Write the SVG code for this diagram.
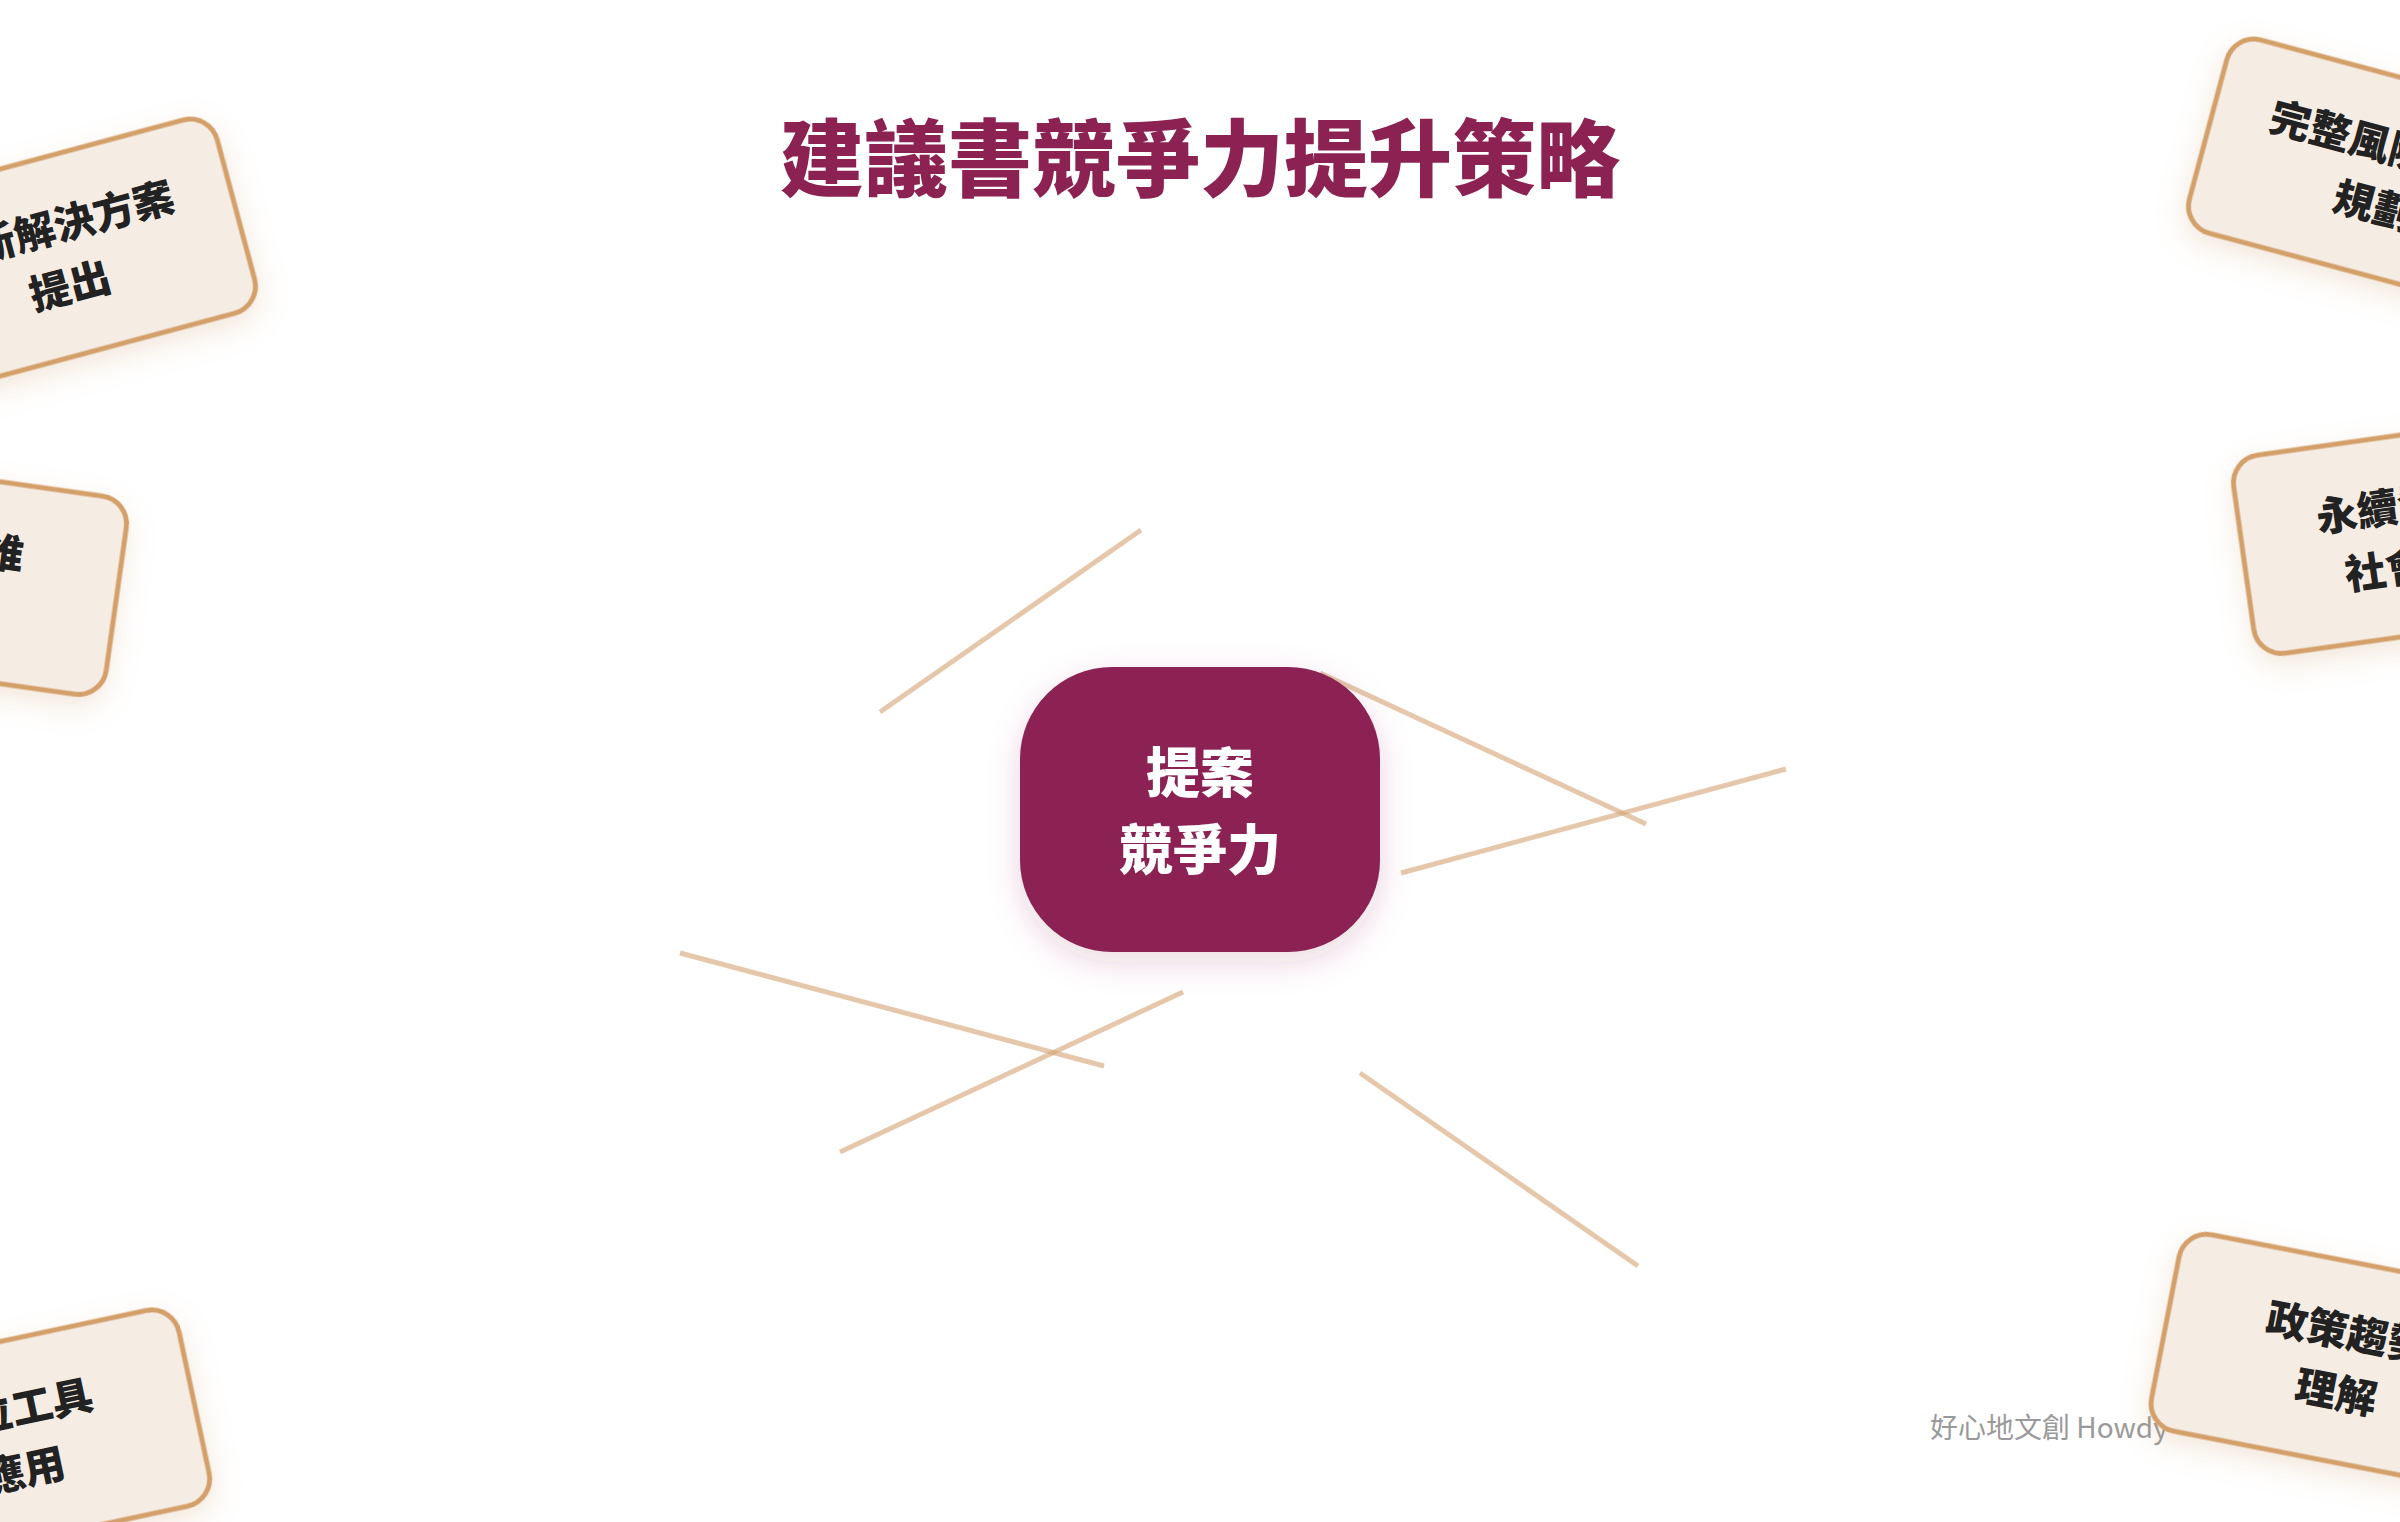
<svg xmlns="http://www.w3.org/2000/svg" width="2400" height="1522" viewBox="0 0 2400 1522">
  <defs>
    <filter id="cardShadow" x="-30%" y="-40%" width="160%" height="190%">
      <feDropShadow dx="0" dy="10" stdDeviation="14" flood-color="#C8965A" flood-opacity="0.22"/>
    </filter>
    <filter id="coreShadow" x="-30%" y="-30%" width="160%" height="170%">
      <feDropShadow dx="0" dy="10" stdDeviation="16" flood-color="#8B2252" flood-opacity="0.18"/>
    </filter>
  </defs>
  <style>
    .card { fill: #F5EDE4; stroke: #D4A06A; stroke-width: 5; }
    .card-text { font-family: "Noto Sans CJK TC", "Noto Sans", sans-serif; font-size: 41px; font-weight: 900; fill: #222222; text-anchor: middle; }
    .core { fill: #8B2252; }
    .core-text { font-family: "Noto Sans CJK TC", "Noto Sans", sans-serif; font-size: 54px; font-weight: 900; fill: #FFFFFF; text-anchor: middle; }
    .title { font-family: "Noto Sans CJK TC", "Noto Sans", sans-serif; font-size: 84px; font-weight: 900; fill: #8B2252; text-anchor: middle; }
    .mark { font-family: "Noto Sans CJK TC", "Noto Sans", sans-serif; font-size: 28px; font-weight: 400; fill: #9A9A9A; }
    .link { stroke: #D4A373; stroke-width: 5; stroke-opacity: 0.6; fill: none; }
  </style>
  <rect x="0" y="0" width="2400" height="1522" fill="#FFFFFF"/>

  <text class="title" x="1200" y="190">建議書競爭力提升策略</text>

  <text class="mark" x="1930" y="1438">好心地文創 Howdy</text>

  <g id="connectors">
    <line class="link" x1="880" y1="712" x2="1141" y2="530"/>
    <line class="link" x1="1320" y1="673" x2="1646" y2="824"/>
    <line class="link" x1="1401" y1="873" x2="1786" y2="769"/>
    <line class="link" x1="680" y1="953" x2="1104" y2="1066"/>
    <line class="link" x1="840" y1="1152" x2="1183" y2="992"/>
    <line class="link" x1="1360" y1="1073" x2="1638" y2="1266"/>
  </g>

  <g id="node-center">
    <rect class="core" x="1020" y="667" width="360" height="285" rx="92" ry="92" filter="url(#coreShadow)"/>
    <text class="core-text" x="1200" y="793">提案</text>
    <text class="core-text" x="1200" y="870">競爭力</text>
  </g>

  <g id="node-innovation" transform="translate(62,256) rotate(-15)">
    <rect class="card" x="-180" y="-100" width="360" height="200" rx="28" ry="28" filter="url(#cardShadow)"/>
    <text class="card-text" x="0" y="-15">創新解決方案</text>
    <text class="card-text" x="0" y="46">提出</text>
  </g>

  <g id="node-thinking" transform="translate(-62,574) rotate(8)">
    <rect class="card" x="-180" y="-100" width="360" height="200" rx="28" ry="28" filter="url(#cardShadow)"/>
    <text class="card-text" x="0" y="-15">設計思維</text>
    <text class="card-text" x="0" y="46">導入</text>
  </g>

  <g id="node-digital" transform="translate(18,1440) rotate(-12)">
    <rect class="card" x="-180" y="-100" width="360" height="200" rx="28" ry="28" filter="url(#cardShadow)"/>
    <text class="card-text" x="0" y="-15">數位工具</text>
    <text class="card-text" x="0" y="46">應用</text>
  </g>

  <g id="node-risk" transform="translate(2382,176) rotate(15)">
    <rect class="card" x="-180" y="-100" width="360" height="200" rx="28" ry="28" filter="url(#cardShadow)"/>
    <text class="card-text" x="0" y="-15">完整風險管理</text>
    <text class="card-text" x="0" y="46">規劃</text>
  </g>

  <g id="node-sustain" transform="translate(2422,533) rotate(-8)">
    <rect class="card" x="-180" y="-100" width="360" height="200" rx="28" ry="28" filter="url(#cardShadow)"/>
    <text class="card-text" x="0" y="-15">永續發展與</text>
    <text class="card-text" x="0" y="46">社會責任</text>
  </g>

  <g id="node-policy" transform="translate(2342,1362) rotate(11)">
    <rect class="card" x="-180" y="-100" width="360" height="200" rx="28" ry="28" filter="url(#cardShadow)"/>
    <text class="card-text" x="0" y="-15">政策趨勢</text>
    <text class="card-text" x="0" y="46">理解</text>
  </g>
</svg>
